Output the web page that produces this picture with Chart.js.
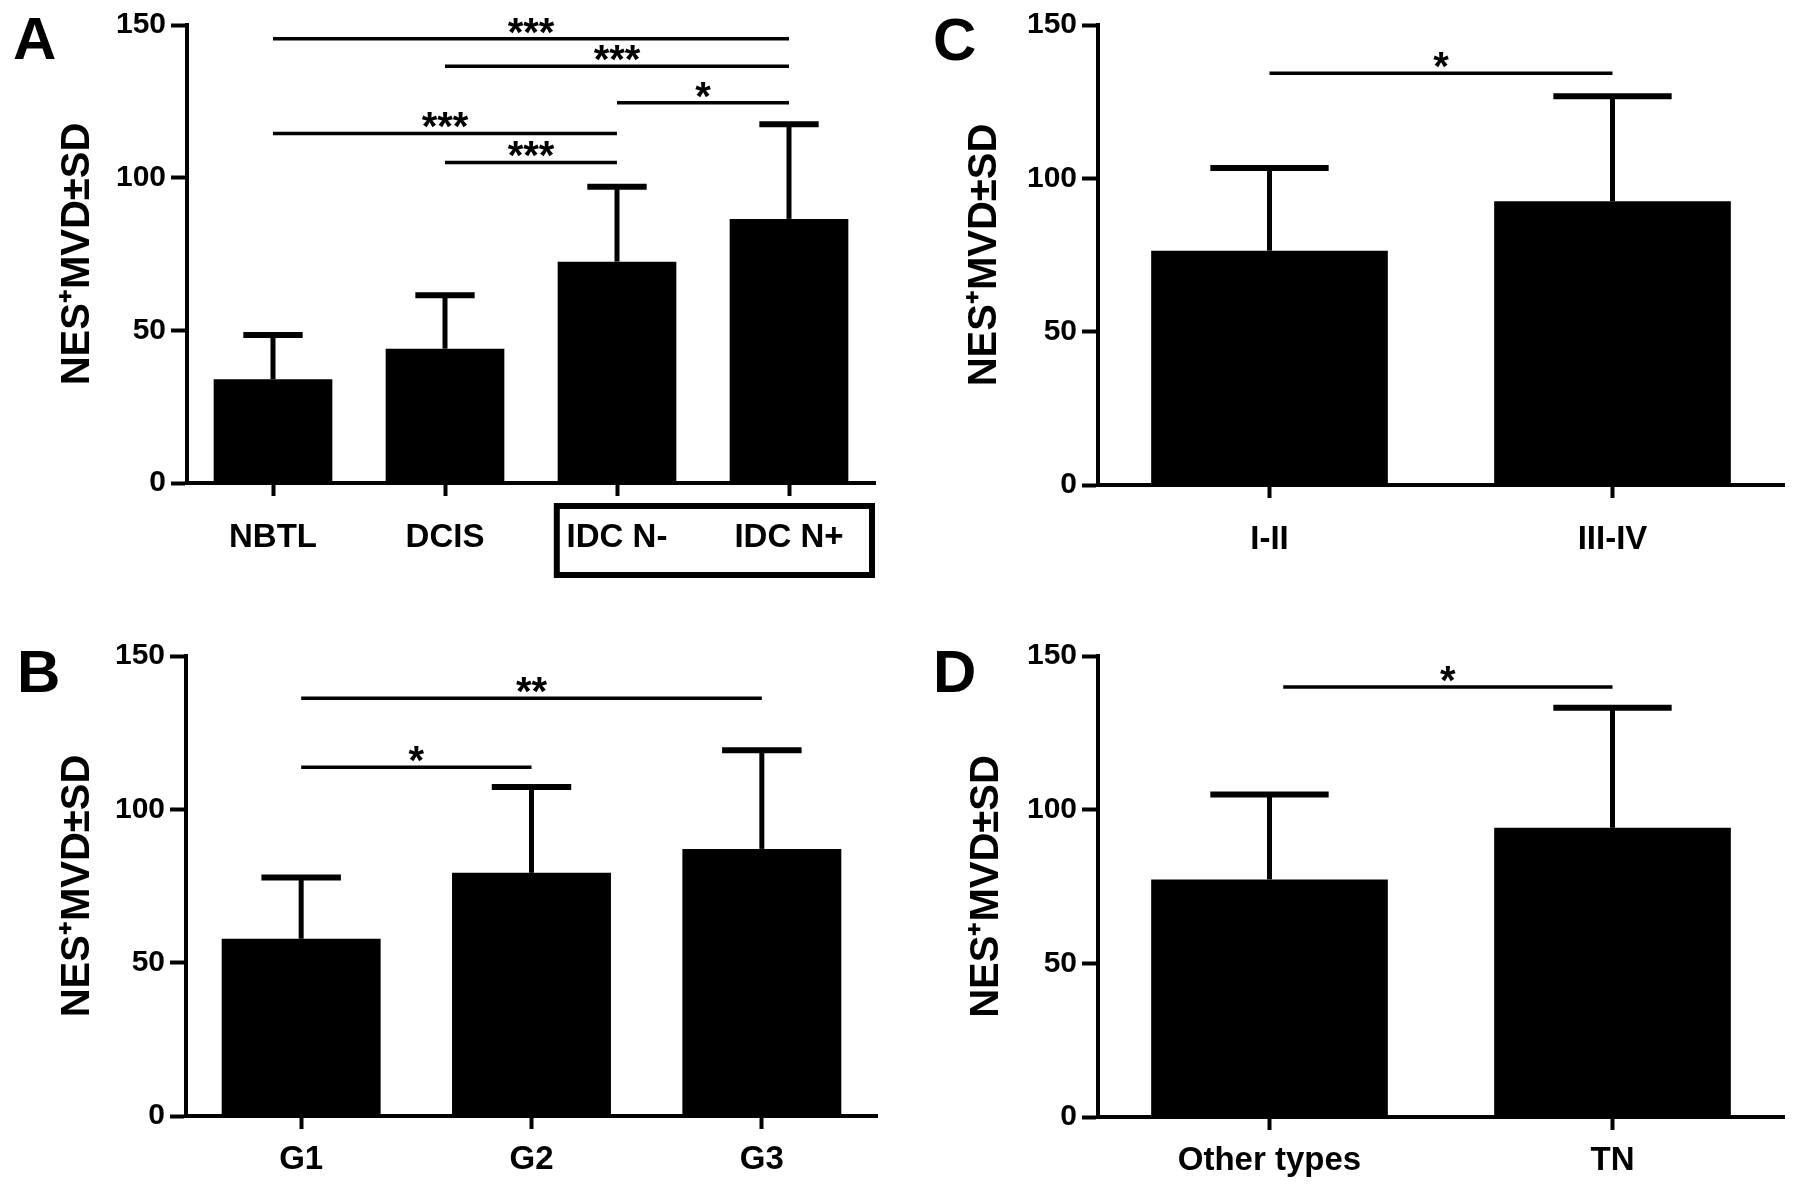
<!DOCTYPE html>
<html>
<head>
<meta charset="utf-8">
<script src="https://cdn.jsdelivr.net/npm/chart.js@4.4.1/dist/chart.umd.min.js"></script>
<style>
html, body { margin: 0; padding: 0; background: #fff; }
#wrap { position: relative; width: 1795px; height: 1188px; overflow: hidden; }
canvas { position: absolute; }
</style>
</head>
<body>
<div id="wrap">
  <canvas id="chartA" width="897" height="597" style="left:0;top:0"></canvas>
  <canvas id="chartC" width="898" height="597" style="left:897px;top:0"></canvas>
  <canvas id="chartB" width="897" height="591" style="left:0;top:597px"></canvas>
  <canvas id="chartD" width="898" height="591" style="left:897px;top:597px"></canvas>
</div>
<script>
// shared axis
const yTicks = [0, 50, 100, 150];
const yTitle = 'NES\u207AMVD\u00B1SD';

// A - tissue type
const labelsA = ['NBTL', 'DCIS', 'IDC N-', 'IDC N+'];
const meanA = [34, 44, 72.5, 86.5];
const sdA = [14.5, 17.5, 24.5, 31];
// [from, to, y, text]
const sigA = [[0, 3, 145.5, '***'], [1, 3, 136.5, '***'], [2, 3, 124.5, '*'], [0, 2, 114.5, '***'], [1, 2, 105, '***']];

// B - grade
const labelsB = ['G1', 'G2', 'G3'];
const meanB = [57.8, 79.3, 87.1];
const sdB = [20, 28, 32.2];
const sigB = [[0, 2, 136.2, '**'], [0, 1, 113.7, '*']];

// C - stage
const labelsC = ['I-II', 'III-IV'];
const meanC = [76.4, 92.5];
const sdC = [27, 34.3];
const sigC = [[0, 1, 134.3, '*']];

// D - subtype
const labelsD = ['Other types', 'TN'];
const meanD = [77.3, 94.1];
const sdD = [27.6, 39.1];
const sigD = [[0.04, 1, 139.9, '*']];

const FONT = "'Liberation Sans', Arial, sans-serif";
Chart.defaults.font.family = FONT;
Chart.defaults.color = '#000';

// SD whiskers (upper only)
const errorBars = {
    id: 'errorBars',
    afterDatasetsDraw(chart, args, opts) {
        const ctx = chart.ctx;
        const y = chart.scales.y;
        const data = chart.data.datasets[0].data;
        ctx.save();
        ctx.strokeStyle = '#000';
        chart.getDatasetMeta(0).data.forEach((bar, i) => {
            const top = y.getPixelForValue(data[i] + opts.sd[i]);
            const half = bar.width / 4;
            ctx.lineWidth = 5;
            ctx.beginPath();
            ctx.moveTo(bar.x, bar.y);
            ctx.lineTo(bar.x, top);
            ctx.stroke();
            ctx.lineWidth = 6;
            ctx.beginPath();
            ctx.moveTo(bar.x - half, top);
            ctx.lineTo(bar.x + half, top);
            ctx.stroke();
        });
        ctx.restore();
    }
};

// significance lines, panel letter, IDC box
const annotations = {
    id: 'annotations',
    afterDraw(chart, args, opts) {
        const ctx = chart.ctx;
        const x = chart.scales.x, y = chart.scales.y;
        ctx.save();
        ctx.strokeStyle = '#000';
        ctx.fillStyle = '#000';
        ctx.lineWidth = 3.5;
        ctx.textAlign = 'center';
        ctx.textBaseline = 'alphabetic';
        ctx.font = 'bold 40px ' + FONT;
        opts.sig.forEach(([from, to, val, text]) => {
            const x1 = x.getPixelForValue(from), x2 = x.getPixelForValue(to);
            const py = y.getPixelForValue(val);
            ctx.beginPath();
            ctx.moveTo(x1, py);
            ctx.lineTo(x2, py);
            ctx.stroke();
            ctx.fillText(text, (x1 + x2) / 2, py + 7);
        });
        // panel letter
        ctx.textAlign = 'left';
        ctx.font = 'bold 60px ' + FONT;
        ctx.fillText(opts.letter[0], opts.letter[1], opts.letter[2]);
        // box around the IDC groups
        if (opts.box) {
            const area = chart.chartArea;
            const left = x.getPixelForValue(opts.box[0]);
            ctx.lineWidth = 6;
            ctx.strokeRect(left, area.bottom + 23, area.right - 3 - left, 69);
        }
        ctx.restore();
    }
};

function makePanel(id, labels, means, sd, sig, L) {
    return new Chart(document.getElementById(id), {
        type: 'bar',
        data: {
            labels: labels,
            datasets: [{
                data: means,
                backgroundColor: '#000',
                borderWidth: 0,
                barPercentage: 0.69,
                categoryPercentage: 1
            }]
        },
        options: {
            responsive: false,
            animation: false,
            layout: { padding: L.padding },
            plugins: {
                legend: { display: false },
                tooltip: { enabled: false },
                errorBars: { sd: sd },
                annotations: { sig: sig, letter: L.letter, box: L.box }
            },
            scales: {
                x: {
                    offset: true,
                    afterFit: s => { s.height = L.xHeight; },
                    border: { display: true, color: '#000', width: 4 },
                    grid: { display: true, offset: false, drawOnChartArea: false, tickLength: 13, tickWidth: 4, tickColor: '#000' },
                    ticks: { color: '#000', font: { size: 33, weight: 'bold' }, padding: L.xPad, maxRotation: 0, autoSkip: false }
                },
                y: {
                    min: 0,
                    max: 150,
                    afterBuildTicks: s => { s.ticks = yTicks.map(v => ({ value: v })); },
                    afterFit: s => { s.width = L.yWidth; },
                    border: { display: true, color: '#000', width: 4 },
                    grid: { display: true, drawOnChartArea: false, tickLength: 16, tickWidth: 4, tickColor: '#000' },
                    ticks: { color: '#000', font: { size: 30, weight: 'bold' }, padding: 5 },
                    title: {
                        display: true,
                        text: yTitle,
                        color: '#000',
                        font: { size: 40, weight: 'bold' },
                        padding: { top: L.titlePad, bottom: 0 }
                    }
                }
            }
        },
        plugins: [errorBars, annotations]
    });
}

makePanel('chartA', labelsA, meanA, sdA, sigA, {
    padding: { top: 25, right: 22, bottom: 0, left: 0 },
    yWidth: 187, xHeight: 114, xPad: 22, titlePad: 54,
    letter: ['A', 13, 59], box: [1.65]
});
makePanel('chartC', labelsC, meanC, sdC, sigC, {
    padding: { top: 25, right: 11, bottom: 0, left: 0 },
    yWidth: 201, xHeight: 112, xPad: 22, titlePad: 64,
    letter: ['C', 36, 60]
});
makePanel('chartB', labelsB, meanB, sdB, sigB, {
    padding: { top: 59, right: 20, bottom: 0, left: 0 },
    yWidth: 186, xHeight: 72, xPad: 11, titlePad: 54,
    letter: ['B', 17, 95]
});
makePanel('chartD', labelsD, meanD, sdD, sigD, {
    padding: { top: 59, right: 11, bottom: 0, left: 0 },
    yWidth: 201, xHeight: 71, xPad: 11, titlePad: 66,
    letter: ['D', 36, 95]
});
</script>
</body>
</html>
